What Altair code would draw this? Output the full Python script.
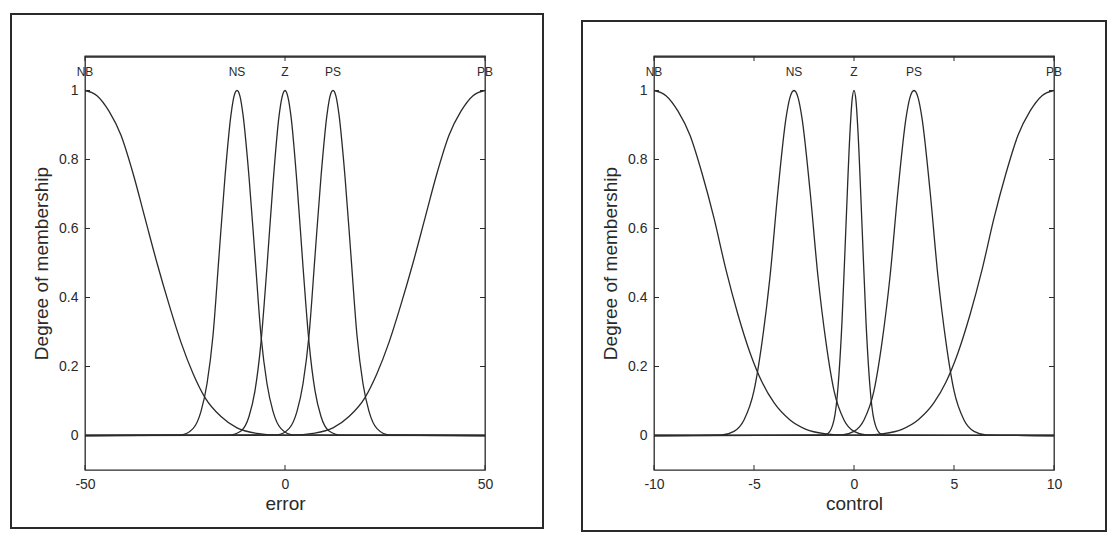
import altair as alt
import pandas as pd

# ---- membership functions on the "error" universe [-50, 50] ----
ERR_NB_X = [-50, -47, -44, -41, -38, -35, -32, -29, -26, -23, -20, -16, -12, -7, -2, 50]
ERR_NB_Y = [1.0, 0.985, 0.94, 0.87, 0.76, 0.63, 0.50, 0.38, 0.27, 0.18, 0.11, 0.055, 0.022,
            0.006, 0.001, 0.0]

ERR_NS_X = [-50, -26, -23, -21, -19.5, -18, -16.5, -15, -13.5, -12.75, -12, -11.25, -10.5,
            -9, -7.5, -6, -4.5, -3, -1, 2, 50]
ERR_NS_Y = [0, 0.002, 0.02, 0.07, 0.15, 0.29, 0.52, 0.75, 0.93, 0.983, 1.0, 0.983, 0.93,
            0.75, 0.52, 0.29, 0.15, 0.07, 0.02, 0.002, 0]

ERR_Z_X = [-50, -14, -11, -9, -7.5, -6, -4.5, -3, -1.5, -0.75, 0, 0.75, 1.5, 3, 4.5, 6, 7.5,
           9, 11, 14, 50]
ERR_Z_Y = [0, 0.001, 0.013, 0.055, 0.13, 0.27, 0.49, 0.73, 0.925, 0.98, 1.0, 0.98, 0.925, 0.73,
           0.49, 0.27, 0.13, 0.055, 0.013, 0.001, 0]

ERR_PS_X = [-50, -2, 1, 3, 4.5, 6, 7.5, 9, 10.5, 11.25, 12, 12.75, 13.5, 15, 16.5, 18, 19.5,
            21, 23, 26, 50]
ERR_PS_Y = [0, 0.002, 0.02, 0.07, 0.15, 0.29, 0.52, 0.75, 0.93, 0.983, 1.0, 0.983, 0.93,
            0.75, 0.52, 0.29, 0.15, 0.07, 0.02, 0.002, 0]

ERR_PB_X = [-50, 2, 7, 12, 16, 20, 23, 26, 29, 32, 35, 38, 41, 44, 47, 50]
ERR_PB_Y = [0.0, 0.001, 0.006, 0.022, 0.055, 0.11, 0.18, 0.27, 0.38, 0.50, 0.63, 0.76, 0.87,
            0.94, 0.985, 1.0]

ERR_PEAKS = [-50, -12, 0, 12, 50]
ERR_XTICKS = [-50, 0, 50]

# ---- membership functions on the "control" universe [-10, 10] ----
CTL_NB_X = [-10, -9.4, -8.8, -8.2, -7.6, -7.0, -6.4, -5.8, -5.2, -4.6, -4.0, -3.2, -2.4, -1.4,
            -0.4, 10]
CTL_NB_Y = [1.0, 0.985, 0.94, 0.87, 0.76, 0.63, 0.48, 0.35, 0.24, 0.155, 0.095, 0.045, 0.018,
            0.005, 0.001, 0]

CTL_NS_X = [-10, -6.6, -6.0, -5.5, -5.0, -4.6, -4.2, -3.8, -3.4, -3.2, -3.0, -2.8, -2.6, -2.2,
            -1.8, -1.4, -1.0, -0.5, 0, 0.6, 10]
CTL_NS_Y = [0, 0.002, 0.012, 0.045, 0.13, 0.27, 0.46, 0.71, 0.92, 0.98, 1.0, 0.98, 0.92, 0.71,
            0.46, 0.27, 0.13, 0.045, 0.012, 0.002, 0]

CTL_Z_X = [-10, -1.6, -1.3, -1.0, -0.8, -0.6, -0.4, -0.2, -0.1, 0, 0.1, 0.2, 0.4, 0.6, 0.8, 1.0,
           1.3, 1.6, 10]
CTL_Z_Y = [0, 0.0005, 0.006, 0.045, 0.14, 0.33, 0.61, 0.88, 0.97, 1.0, 0.97, 0.88, 0.61, 0.33,
           0.14, 0.045, 0.006, 0.0005, 0]

CTL_PS_X = [-10, -0.6, 0, 0.5, 1.0, 1.4, 1.8, 2.2, 2.6, 2.8, 3.0, 3.2, 3.4, 3.8, 4.2, 4.6, 5.0,
            5.5, 6.0, 6.6, 10]
CTL_PS_Y = [0, 0.002, 0.012, 0.045, 0.13, 0.27, 0.46, 0.71, 0.92, 0.98, 1.0, 0.98, 0.92, 0.71,
            0.46, 0.27, 0.13, 0.045, 0.012, 0.002, 0]

CTL_PB_X = [-10, 0.4, 1.4, 2.4, 3.2, 4.0, 4.6, 5.2, 5.8, 6.4, 7.0, 7.6, 8.2, 8.8, 9.4, 10]
CTL_PB_Y = [0, 0.001, 0.005, 0.018, 0.045, 0.095, 0.155, 0.24, 0.35, 0.48, 0.63, 0.76, 0.87,
            0.94, 0.985, 1.0]

CTL_PEAKS = [-10, -3, 0, 3, 10]
CTL_XTICKS = [-10, -5, 0, 5, 10]

SET_NAMES = ["NB", "NS", "Z", "PS", "PB"]
Y_TICKS = [0, 0.2, 0.4, 0.6, 0.8, 1.0]
LABEL_Y = 1.055

INK = "#2a2a2a"
FONT = "Liberation Sans"
W, H = 400, 414


def long_table(xs, ys):
    rows = []
    for name, xv, yv in zip(SET_NAMES, xs, ys):
        for a, b in zip(xv, yv):
            rows.append({"set": name, "x": a, "y": b})
    return pd.DataFrame(rows)


def panel(curves, peaks, xticks, domain, xtitle, frame):
    xs = alt.Scale(domain=domain, nice=False, zero=False)
    ys = alt.Scale(domain=[-0.1, 1.1], nice=False, zero=False)
    minus = "datum.value < 0 ? '-' + abs(datum.value) : '' + datum.value"
    x_axis = alt.Axis(values=xticks, title=xtitle, labelExpr=minus, labelFlush=False,
                      labelPadding=7, titlePadding=3)
    y_axis = alt.Axis(values=Y_TICKS, title="Degree of membership", format="~g",
                      labelFlush=False, labelPadding=7, titlePadding=7)

    lines = alt.Chart(curves).mark_line(
        interpolate="monotone", color=INK, strokeWidth=1.3
    ).encode(
        x=alt.X("x:Q", scale=xs, axis=x_axis),
        y=alt.Y("y:Q", scale=ys, axis=y_axis),
        detail="set:N",
    )

    names = alt.Chart(pd.DataFrame({"x": peaks, "y": [LABEL_Y] * 5, "name": SET_NAMES})).mark_text(
        font=FONT, fontSize=12, color=INK, baseline="middle", align="center"
    ).encode(
        x=alt.X("x:Q", scale=xs, axis=x_axis),
        y=alt.Y("y:Q", scale=ys, axis=y_axis),
        text="name:N",
    )

    # inward tick marks on all four sides of the axes box
    yt = pd.DataFrame({"y": Y_TICKS})
    xt = pd.DataFrame({"x": xticks})
    tick_style = dict(color=INK, strokeWidth=1)
    left_ticks = alt.Chart(yt).mark_rule(**tick_style).encode(
        y=alt.Y("y:Q", scale=ys, axis=y_axis), x=alt.value(0), x2=alt.value(5))
    right_ticks = alt.Chart(yt).mark_rule(**tick_style).encode(
        y=alt.Y("y:Q", scale=ys, axis=y_axis), x=alt.value(W - 5), x2=alt.value(W))
    bottom_ticks = alt.Chart(xt).mark_rule(**tick_style).encode(
        x=alt.X("x:Q", scale=xs, axis=x_axis), y=alt.value(H - 5), y2=alt.value(H))
    top_ticks = alt.Chart(xt).mark_rule(**tick_style).encode(
        x=alt.X("x:Q", scale=xs, axis=x_axis), y=alt.value(0), y2=alt.value(5))

    # top edge of the axes box, drawn on top of everything else
    one = pd.DataFrame({"k": [0]})
    top_edge = alt.Chart(one).mark_rule(color=INK, strokeWidth=1.5).encode(
        x=alt.value(0), x2=alt.value(W), y=alt.value(1))

    # outer figure border
    x0, x1, y0, y1 = frame
    border = alt.Chart(one).mark_rect(
        fillOpacity=0, stroke=INK, strokeWidth=2
    ).encode(x=alt.value(x0), x2=alt.value(x1), y=alt.value(y0), y2=alt.value(y1))

    return alt.layer(
        border, lines, names, left_ticks, right_ticks, bottom_ticks, top_ticks, top_edge
    ).properties(width=W, height=H)


err_df = long_table([ERR_NB_X, ERR_NS_X, ERR_Z_X, ERR_PS_X, ERR_PB_X],
                    [ERR_NB_Y, ERR_NS_Y, ERR_Z_Y, ERR_PS_Y, ERR_PB_Y])
ctl_df = long_table([CTL_NB_X, CTL_NS_X, CTL_Z_X, CTL_PS_X, CTL_PB_X],
                    [CTL_NB_Y, CTL_NS_Y, CTL_Z_Y, CTL_PS_Y, CTL_PB_Y])

left = panel(err_df, ERR_PEAKS, ERR_XTICKS, [-50, 50], "error", (-74, 458, -42, 472))
right = panel(ctl_df, CTL_PEAKS, CTL_XTICKS, [-10, 10], "control", (-72, 452, -35, 475))

chart = alt.hconcat(left, right, spacing=35).properties(
    padding={"left": 9, "top": 12, "right": 0, "bottom": 0},
    background="white",
).configure_view(
    stroke=INK, strokeWidth=1.3
).configure_axis(
    labelFont=FONT, labelFontSize=14, labelColor=INK,
    titleFont=FONT, titleFontSize=19, titleFontWeight="normal", titleColor=INK,
    ticks=False, domain=False, grid=False,
)

chart.save("out.html", embed_options={"renderer": "svg", "actions": False})
